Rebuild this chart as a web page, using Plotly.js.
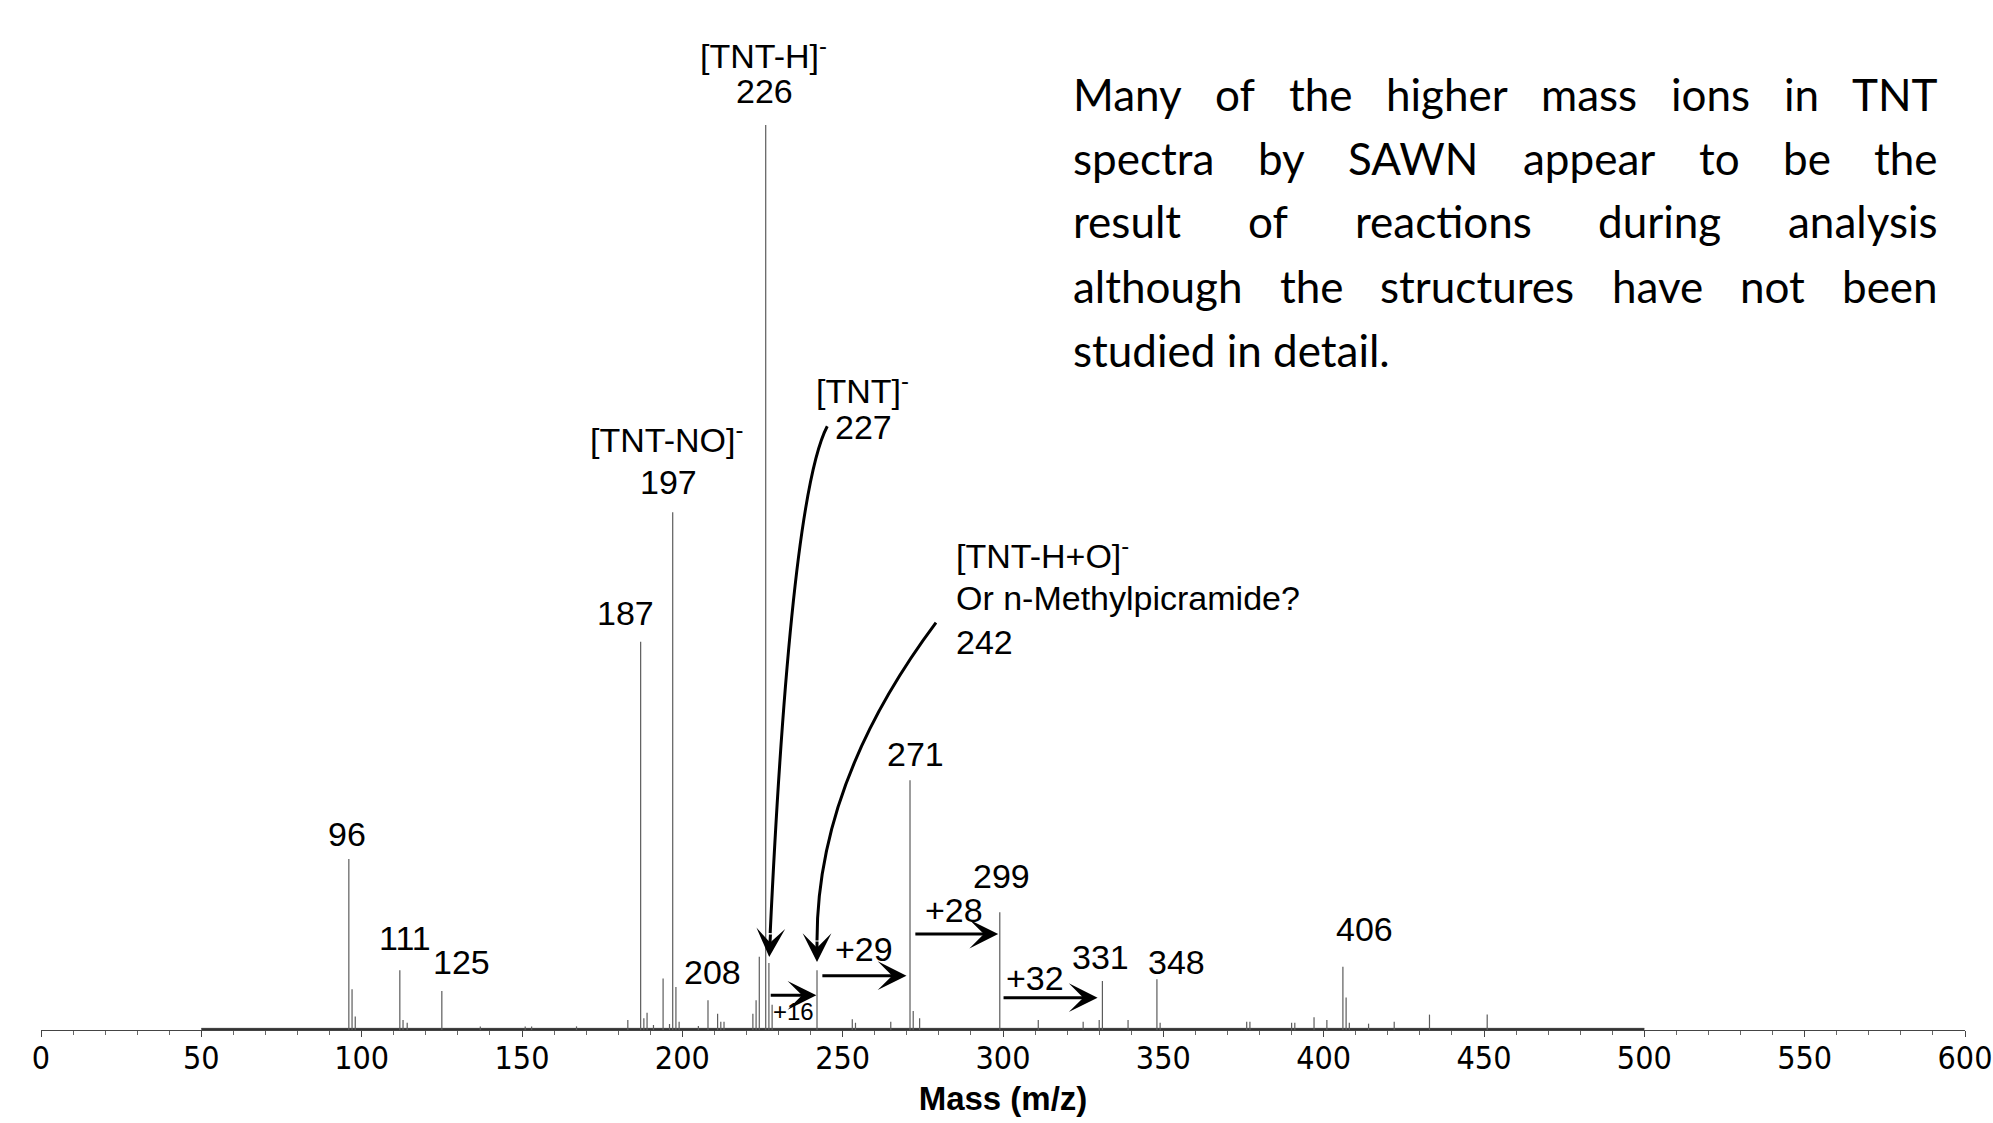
<!DOCTYPE html>
<html>
<head>
<meta charset="utf-8">
<script src="https://cdn.plot.ly/plotly-3.0.1.min.js"></script>
<style>
html,body{margin:0;padding:0;background:#fff;}
#chart{width:1993px;height:1123px;}
</style>
</head>
<body>
<div id="chart"></div>
<script>
// ---- spectrum data (m/z, relative intensity, base peak 226 = 100) ----
const peakMass = [96, 97, 98, 111.9, 112.9, 114.2, 125, 137, 151, 153, 167, 183, 187, 188, 189, 191, 194, 196, 197, 198, 199, 205, 208, 211, 212, 213, 222, 223, 224, 226, 227, 228, 242, 253, 254, 265, 271, 272, 274, 299, 311, 325, 330, 331, 339, 348, 349, 376, 377, 390, 391, 397, 401, 406, 407, 408, 414, 422, 433, 451];
const peakIntensity = [18.9, 4.5, 1.5, 6.6, 1.1, 0.8, 4.3, 0.4, 0.4, 0.4, 0.4, 1.1, 42.9, 1.3, 1.9, 0.55, 5.7, 0.66, 57.2, 4.75, 0.9, 0.45, 3.3, 1.8, 0.9, 0.9, 1.8, 3.3, 8.1, 100, 7.4, 2.8, 6.6, 1.2, 0.8, 0.9, 27.6, 2.1, 1.3, 13.0, 1.1, 0.9, 1.1, 5.4, 1.1, 5.6, 0.8, 0.9, 0.9, 0.8, 0.8, 1.4, 1.1, 7.0, 3.6, 0.8, 0.7, 0.9, 1.7, 1.7];

// baseline noise floor over the acquired mass range
const noiseMass = [50, 500];
const noiseLevel = [0.18, 0.18];

// x-axis ticks
const tickValues = [0, 50, 100, 150, 200, 250, 300, 350, 400, 450, 500, 550, 600];
const tickLabels = ['0', '50', '100', '150', '200', '250', '300', '350', '400', '450', '500', '550', '600'];

// peak number labels
const labelText = ['96', '111', '125', '187', '197', '208', '226', '227', '271', '299', '331', '348', '406'];
const labelMass = [95.5, 113.4, 131.2, 182.2, 195.7, 209.5, 225.7, 256.4, 272.8, 299.6, 330.5, 354.2, 412.8];
const labelY = [21.7, 10.2, 7.5, 46.1, 60.6, 6.4, 103.8, 66.6, 30.5, 17.0, 8.1, 7.5, 11.2];

// ion name labels
const ionText = ['[TNT-H]<sup>-</sup>', '[TNT]<sup>-</sup>', '[TNT-NO]<sup>-</sup>'];
const ionMass = [225.2, 256.2, 195.0];
const ionY = [107.9, 70.9, 65.5];

// left-aligned note for 242
const noteText = ['[TNT-H+O]<sup>-</sup>', 'Or n-Methylpicramide?', '242'];
const noteMass = 284.6;
const noteY = [52.6, 47.7, 42.9];

// mass shift arrows
const shiftText = ['+16', '+29', '+28', '+32'];
const shiftLabelMass = [234.7, 256.5, 284.6, 309.9];
const shiftLabelY = [2.0, 9.0, 13.3, 5.7];
const shiftFrom = [227.1, 243.2, 272.2, 299.7];
const shiftTo = [241.8, 269.9, 298.5, 329.5];
const shiftArrowY = [3.83, 6.0, 10.6, 3.57];

// paragraph
const paraLines = [
  'Many of the higher mass ions in TNT',
  'spectra by SAWN appear to be the',
  'result of reactions during analysis',
  'although the structures have not been',
  'studied in detail.'
];

// ---- build figure ----
const stickX = [], stickY = [];
peakMass.forEach((m, i) => { stickX.push(m, m, null); stickY.push(0, peakIntensity[i], null); });

const traces = [
  {x: noiseMass, y: noiseLevel, type: 'scatter', mode: 'lines', fill: 'tozeroy',
   fillcolor: '#333', line: {color: '#333', width: 0.8}, hoverinfo: 'skip', showlegend: false},
  {x: stickX, y: stickY, type: 'scatter', mode: 'lines',
   line: {color: '#5c5c5c', width: 1.2}, hoverinfo: 'skip', showlegend: false}
];

const W = 1993, H = 1123, ML = 41, MR = 28, MT = 0, MB = 93;
const PW = W - ML - MR, PH = H - MT - MB;
const px2paperX = p => (p - ML) / PW;
const px2paperY = p => (H - MB - p) / PH;

const LBL = 'Liberation Sans, Arial, sans-serif';
const ann = [];
const txt = (o) => Object.assign({showarrow: false, xanchor: 'center', yanchor: 'middle'}, o);
labelText.forEach((t, i) => ann.push(txt({x: labelMass[i], y: labelY[i], xref: 'x', yref: 'y', text: t,
  font: {family: LBL, size: 34, color: '#000'}})));
ionText.forEach((t, i) => ann.push(txt({x: ionMass[i], y: ionY[i], xref: 'x', yref: 'y', text: t,
  font: {family: LBL, size: 34, color: '#000'}})));
noteText.forEach((t, i) => ann.push(txt({x: noteMass, y: noteY[i], xref: 'x', yref: 'y', text: t, xanchor: 'left',
  font: {family: LBL, size: 34, color: '#000'}})));
shiftText.forEach((t, i) => ann.push(txt({x: shiftLabelMass[i], y: shiftLabelY[i], xref: 'x', yref: 'y', text: t,
  font: {family: LBL, size: t === '+16' ? 24 : 34, color: '#000'}})));
shiftFrom.forEach((f, i) => ann.push({x: shiftTo[i], y: shiftArrowY[i], ax: f, ay: shiftArrowY[i],
  xref: 'x', yref: 'y', axref: 'x', ayref: 'y', text: '', showarrow: true,
  arrowhead: 3, arrowsize: 1.6, arrowwidth: 3, arrowcolor: '#000', standoff: 0, startstandoff: 0}));
// curved pointer arrowheads
ann.push({x: 227.1, y: 8.07, ax: 1.3, ay: -24, xref: 'x', yref: 'y', text: '', showarrow: true,
  arrowhead: 3, arrowsize: 1.6, arrowwidth: 3, arrowcolor: '#000', standoff: 0});
ann.push({x: 242.0, y: 7.5, ax: 0, ay: -22, xref: 'x', yref: 'y', text: '', showarrow: true,
  arrowhead: 3, arrowsize: 1.6, arrowwidth: 3, arrowcolor: '#000', standoff: 0});

// justified paragraph
const PFONT = 'Lato, "Open Sans", sans-serif', PSIZE = 44;
const cv = document.createElement('canvas').getContext('2d');
cv.font = PSIZE + 'px Lato';
const pLeft = 1072, pRight = 1937, pY = [94, 158, 221.5, 286, 350];
paraLines.forEach((line, li) => {
  const words = line.split(' ');
  if (li === paraLines.length - 1) {
    ann.push(txt({x: px2paperX(pLeft), y: px2paperY(pY[li]), xref: 'paper', yref: 'paper', xanchor: 'left',
      text: line, borderpad: 0, font: {family: PFONT, size: PSIZE, color: '#000'}}));
    return;
  }
  const widths = words.map(w => cv.measureText(w).width);
  const total = widths.reduce((a, b) => a + b, 0);
  const gap = (pRight - pLeft - total) / (words.length - 1);
  let xpos = pLeft;
  words.forEach((w, wi) => {
    ann.push(txt({x: px2paperX(xpos), y: px2paperY(pY[li]), xref: 'paper', yref: 'paper', xanchor: 'left',
      text: w, borderpad: 0, font: {family: PFONT, size: PSIZE, color: '#000'}}));
    xpos += widths[wi] + gap;
  });
});

const shapes = [
  {type: 'path', xref: 'x', yref: 'y', path: 'M 245.2,66.7 Q 233.9,59.1 227.4,10.7',
   line: {color: '#000', width: 3}},
  {type: 'path', xref: 'x', yref: 'y', path: 'M 279.1,45.0 Q 242.0,27.4 242.0,9.9',
   line: {color: '#000', width: 3}}
];

const layout = {
  width: W, height: H,
  margin: {l: ML, r: MR, t: MT, b: MB, pad: 0},
  paper_bgcolor: '#fff', plot_bgcolor: '#fff',
  showlegend: false,
  xaxis: {
    range: [0, 600.001], showgrid: false, zeroline: false,
    showline: true, linecolor: '#444', linewidth: 1,
    ticks: 'outside', ticklen: 6, tickwidth: 1, tickcolor: '#444',
    tickmode: 'array', tickvals: tickValues, ticktext: tickLabels,
    ticklabeloverflow: 'allow', ticklabelstandoff: -6,
    minor: {ticks: 'outside', ticklen: 4, tickwidth: 1, tickcolor: '#666', dtick: 10, tick0: 0, showgrid: false},
    tickfont: {family: 'Liberation Sans Narrow, DejaVu Sans Condensed, Liberation Sans, sans-serif', size: 32, color: '#000'},
    title: {text: '<b>Mass (m/z)</b>', standoff: 10,
            font: {family: 'Liberation Sans, Arial, sans-serif', size: 33, color: '#000'}}
  },
  yaxis: {range: [0, 113.8], visible: false, showgrid: false, zeroline: false},
  annotations: ann,
  shapes: shapes
};

Plotly.newPlot('chart', traces, layout, {displayModeBar: false, staticPlot: true});
</script>
</body>
</html>
